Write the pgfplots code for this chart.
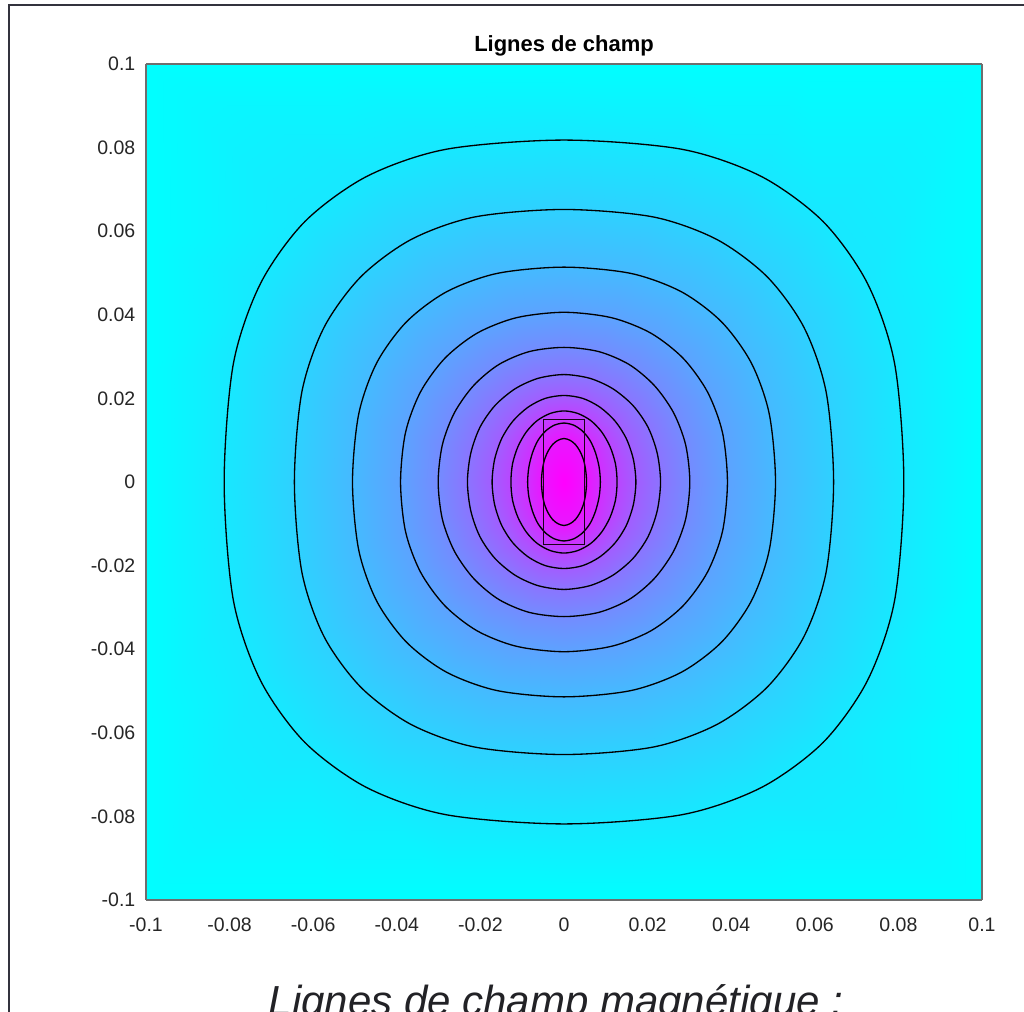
\documentclass[border=0pt]{standalone}
\usepackage{fontspec}
\setmainfont{Liberation Sans}
\usepackage{pgfplots}
\pgfplotsset{compat=1.18}
\usepackage{pgfplotstable}
\definecolor{ticktxt}{HTML}{262626}
\definecolor{framecol}{HTML}{33333D}
\definecolor{boxcol}{HTML}{6E6E6E}
\definecolor{captxt}{HTML}{222226}

% mesh: rows = centre, 10 field lines (inner to outer), square boundary; c = colour level
\pgfplotstableread{
x y c
0 0 1
0 0 1
0 0 1
0 0 1
0 0 1
0 0 1
0 0 1
0 0 1
0 0 1
0 0 1
0 0 1
0 0 1
0 0 1
0 0 1
0 0 1
0 0 1
0 0 1
0 0 1
0 0 1
0 0 1
0 0 1
0 0 1
0 0 1
0 0 1
0 0 1
0.0054 0 0.909
0.0052 0.0027 0.909
0.0047 0.0052 0.909
0.0038 0.0074 0.909
0.0027 0.0090 0.909
0.0014 0.0100 0.909
0 0.0104 0.909
-0.0014 0.0100 0.909
-0.0027 0.0090 0.909
-0.0038 0.0074 0.909
-0.0047 0.0052 0.909
-0.0052 0.0027 0.909
-0.0054 0 0.909
-0.0052 -0.0027 0.909
-0.0047 -0.0052 0.909
-0.0038 -0.0074 0.909
-0.0027 -0.0090 0.909
-0.0014 -0.0100 0.909
0 -0.0104 0.909
0.0014 -0.0100 0.909
0.0027 -0.0090 0.909
0.0038 -0.0074 0.909
0.0047 -0.0052 0.909
0.0052 -0.0027 0.909
0.0054 0 0.909
0.0087 0 0.818
0.0084 0.0036 0.818
0.0075 0.0071 0.818
0.0062 0.0100 0.818
0.0044 0.0122 0.818
0.0023 0.0136 0.818
0 0.0141 0.818
-0.0023 0.0136 0.818
-0.0044 0.0122 0.818
-0.0062 0.0100 0.818
-0.0075 0.0071 0.818
-0.0084 0.0036 0.818
-0.0087 0 0.818
-0.0084 -0.0036 0.818
-0.0075 -0.0071 0.818
-0.0062 -0.0100 0.818
-0.0044 -0.0122 0.818
-0.0023 -0.0136 0.818
0 -0.0141 0.818
0.0023 -0.0136 0.818
0.0044 -0.0122 0.818
0.0062 -0.0100 0.818
0.0075 -0.0071 0.818
0.0084 -0.0036 0.818
0.0087 0 0.818
0.0127 0 0.727
0.0123 0.0044 0.727
0.0110 0.0085 0.727
0.0090 0.0120 0.727
0.0064 0.0147 0.727
0.0033 0.0164 0.727
0 0.0170 0.727
-0.0033 0.0164 0.727
-0.0064 0.0147 0.727
-0.0090 0.0120 0.727
-0.0110 0.0085 0.727
-0.0123 0.0044 0.727
-0.0127 0 0.727
-0.0123 -0.0044 0.727
-0.0110 -0.0085 0.727
-0.0090 -0.0120 0.727
-0.0064 -0.0147 0.727
-0.0033 -0.0164 0.727
0 -0.0170 0.727
0.0033 -0.0164 0.727
0.0064 -0.0147 0.727
0.0090 -0.0120 0.727
0.0110 -0.0085 0.727
0.0123 -0.0044 0.727
0.0127 0 0.727
0.0172 0 0.636
0.0166 0.0054 0.636
0.0149 0.0104 0.636
0.0122 0.0146 0.636
0.0086 0.0179 0.636
0.0045 0.0200 0.636
0 0.0207 0.636
-0.0045 0.0200 0.636
-0.0086 0.0179 0.636
-0.0122 0.0146 0.636
-0.0149 0.0104 0.636
-0.0166 0.0054 0.636
-0.0172 0 0.636
-0.0166 -0.0054 0.636
-0.0149 -0.0104 0.636
-0.0122 -0.0146 0.636
-0.0086 -0.0179 0.636
-0.0045 -0.0200 0.636
0 -0.0207 0.636
0.0045 -0.0200 0.636
0.0086 -0.0179 0.636
0.0122 -0.0146 0.636
0.0149 -0.0104 0.636
0.0166 -0.0054 0.636
0.0172 0 0.636
0.0231 0 0.545
0.0223 0.0069 0.545
0.0201 0.0131 0.545
0.0165 0.0183 0.545
0.0117 0.0223 0.545
0.0062 0.0248 0.545
0 0.0257 0.545
-0.0062 0.0248 0.545
-0.0117 0.0223 0.545
-0.0165 0.0183 0.545
-0.0201 0.0131 0.545
-0.0223 0.0069 0.545
-0.0231 0 0.545
-0.0223 -0.0069 0.545
-0.0201 -0.0131 0.545
-0.0165 -0.0183 0.545
-0.0117 -0.0223 0.545
-0.0062 -0.0248 0.545
0 -0.0257 0.545
0.0062 -0.0248 0.545
0.0117 -0.0223 0.545
0.0165 -0.0183 0.545
0.0201 -0.0131 0.545
0.0223 -0.0069 0.545
0.0231 0 0.545
0.0301 0 0.455
0.0291 0.0089 0.455
0.0262 0.0166 0.455
0.0216 0.0231 0.455
0.0156 0.0281 0.455
0.0083 0.0312 0.455
0 0.0322 0.455
-0.0083 0.0312 0.455
-0.0156 0.0281 0.455
-0.0216 0.0231 0.455
-0.0262 0.0166 0.455
-0.0291 0.0089 0.455
-0.0301 0 0.455
-0.0291 -0.0089 0.455
-0.0262 -0.0166 0.455
-0.0216 -0.0231 0.455
-0.0156 -0.0281 0.455
-0.0083 -0.0312 0.455
0 -0.0322 0.455
0.0083 -0.0312 0.455
0.0156 -0.0281 0.455
0.0216 -0.0231 0.455
0.0262 -0.0166 0.455
0.0291 -0.0089 0.455
0.0301 0 0.455
0.0391 0 0.364
0.0379 0.0119 0.364
0.0343 0.0216 0.364
0.0285 0.0296 0.364
0.0208 0.0356 0.364
0.0114 0.0393 0.364
0 0.0406 0.364
-0.0114 0.0393 0.364
-0.0208 0.0356 0.364
-0.0285 0.0296 0.364
-0.0343 0.0216 0.364
-0.0379 0.0119 0.364
-0.0391 0 0.364
-0.0379 -0.0119 0.364
-0.0343 -0.0216 0.364
-0.0285 -0.0296 0.364
-0.0208 -0.0356 0.364
-0.0114 -0.0393 0.364
0 -0.0406 0.364
0.0114 -0.0393 0.364
0.0208 -0.0356 0.364
0.0285 -0.0296 0.364
0.0343 -0.0216 0.364
0.0379 -0.0119 0.364
0.0391 0 0.364
0.0506 0 0.273
0.0491 0.0163 0.273
0.0448 0.0285 0.273
0.0377 0.0383 0.273
0.0281 0.0455 0.273
0.0160 0.0499 0.273
0 0.0514 0.273
-0.0160 0.0499 0.273
-0.0281 0.0455 0.273
-0.0377 0.0383 0.273
-0.0448 0.0285 0.273
-0.0491 0.0163 0.273
-0.0506 0 0.273
-0.0491 -0.0163 0.273
-0.0448 -0.0285 0.273
-0.0377 -0.0383 0.273
-0.0281 -0.0455 0.273
-0.0160 -0.0499 0.273
0 -0.0514 0.273
0.0160 -0.0499 0.273
0.0281 -0.0455 0.273
0.0377 -0.0383 0.273
0.0448 -0.0285 0.273
0.0491 -0.0163 0.273
0.0506 0 0.273
0.0645 0 0.182
0.0627 0.0216 0.182
0.0574 0.0370 0.182
0.0486 0.0491 0.182
0.0366 0.0580 0.182
0.0214 0.0634 0.182
0 0.0652 0.182
-0.0214 0.0634 0.182
-0.0366 0.0580 0.182
-0.0486 0.0491 0.182
-0.0574 0.0370 0.182
-0.0627 0.0216 0.182
-0.0645 0 0.182
-0.0627 -0.0216 0.182
-0.0574 -0.0370 0.182
-0.0486 -0.0491 0.182
-0.0366 -0.0580 0.182
-0.0214 -0.0634 0.182
0 -0.0652 0.182
0.0214 -0.0634 0.182
0.0366 -0.0580 0.182
0.0486 -0.0491 0.182
0.0574 -0.0370 0.182
0.0627 -0.0216 0.182
0.0645 0 0.182
0.0813 0 0.091
0.0791 0.0283 0.091
0.0726 0.0475 0.091
0.0620 0.0623 0.091
0.0472 0.0731 0.091
0.0282 0.0796 0.091
0 0.0818 0.091
-0.0282 0.0796 0.091
-0.0472 0.0731 0.091
-0.0620 0.0623 0.091
-0.0726 0.0475 0.091
-0.0791 0.0283 0.091
-0.0813 0 0.091
-0.0791 -0.0283 0.091
-0.0726 -0.0475 0.091
-0.0620 -0.0623 0.091
-0.0472 -0.0731 0.091
-0.0282 -0.0796 0.091
0 -0.0818 0.091
0.0282 -0.0796 0.091
0.0472 -0.0731 0.091
0.0620 -0.0623 0.091
0.0726 -0.0475 0.091
0.0791 -0.0283 0.091
0.0813 0 0.091
0.1 0 0
0.1 0.0268 0
0.1 0.0577 0
0.1 0.1 0
0.0577 0.1 0
0.0268 0.1 0
0 0.1 0
-0.0268 0.1 0
-0.0577 0.1 0
-0.1 0.1 0
-0.1 0.0577 0
-0.1 0.0268 0
-0.1 0 0
-0.1 -0.0268 0
-0.1 -0.0577 0
-0.1 -0.1 0
-0.0577 -0.1 0
-0.0268 -0.1 0
0 -0.1 0
0.0268 -0.1 0
0.0577 -0.1 0
0.1 -0.1 0
0.1 -0.0577 0
0.1 -0.0268 0
0.1 0 0
}\meshtable

\begin{document}
\begin{tikzpicture}
\useasboundingbox (0,0) rectangle (20.48,20.22);
\clip (0,0) rectangle (20.48,20.22);
\fill[white] (0,0) rectangle (20.48,20.22);
\draw[framecol, line width=1.1pt] (0.18,-0.5) -- (0.18,20.12) -- (21,20.12);
\begin{axis}[
  at={(2.92cm,2.22cm)}, anchor=south west,
  scale only axis, width=16.72cm, height=16.72cm,
  view={0}{90},
  xmin=-0.1, xmax=0.1, ymin=-0.1, ymax=0.1,
  enlargelimits=false,
  axis on top,
  xtick={-0.1,-0.08,-0.06,-0.04,-0.02,0,0.02,0.04,0.06,0.08,0.1},
  xticklabels={-0.1,-0.08,-0.06,-0.04,-0.02,0,0.02,0.04,0.06,0.08,0.1},
  ytick={-0.1,-0.08,-0.06,-0.04,-0.02,0,0.02,0.04,0.06,0.08,0.1},
  yticklabels={-0.1,-0.08,-0.06,-0.04,-0.02,0,0.02,0.04,0.06,0.08,0.1},
  ztick=\empty,
  tick style={draw=none},
  tick label style={font=\fontsize{11.1}{13}\selectfont, text=ticktxt},
  xticklabel style={yshift=-0.24cm},
  yticklabel style={xshift=-0.09cm},
  axis line style={boxcol, line width=0.8pt},
  colormap={coolm}{rgb255=(0,255,255) rgb255=(255,0,255)},
  point meta min=0, point meta max=1,
  contour/.style={black, line width=0.75pt, smooth cycle, no markers},
]
\addplot3[surf, shader=interp, mesh/rows=12, mesh/cols=25] table[x=x,y=y,z=c] {\meshtable};
\addplot3[contour, skip coords between index={0}{25}, skip coords between index={49}{300}] table[x=x,y=y,z=c] {\meshtable};
\addplot3[contour, skip coords between index={0}{50}, skip coords between index={74}{300}] table[x=x,y=y,z=c] {\meshtable};
\addplot3[contour, skip coords between index={0}{75}, skip coords between index={99}{300}] table[x=x,y=y,z=c] {\meshtable};
\addplot3[contour, skip coords between index={0}{100}, skip coords between index={124}{300}] table[x=x,y=y,z=c] {\meshtable};
\addplot3[contour, skip coords between index={0}{125}, skip coords between index={149}{300}] table[x=x,y=y,z=c] {\meshtable};
\addplot3[contour, skip coords between index={0}{150}, skip coords between index={174}{300}] table[x=x,y=y,z=c] {\meshtable};
\addplot3[contour, skip coords between index={0}{175}, skip coords between index={199}{300}] table[x=x,y=y,z=c] {\meshtable};
\addplot3[contour, skip coords between index={0}{200}, skip coords between index={224}{300}] table[x=x,y=y,z=c] {\meshtable};
\addplot3[contour, skip coords between index={0}{225}, skip coords between index={249}{300}] table[x=x,y=y,z=c] {\meshtable};
\addplot3[contour, skip coords between index={0}{250}, skip coords between index={274}{300}] table[x=x,y=y,z=c] {\meshtable};
\addplot3[black!80!violet, line width=0.6pt, sharp plot, no markers] coordinates {(-0.005,-0.015,1) (0.005,-0.015,1) (0.005,0.015,1) (-0.005,0.015,1) (-0.005,-0.015,1)};
\end{axis}
\node[anchor=base, font=\bfseries\fontsize{12.5}{15}\selectfont, text=black] at (11.28,19.18) {Lignes de champ};
\node[anchor=base, font=\itshape\fontsize{23.9}{28}\selectfont, text=captxt] at (11.12,-0.08) {Lignes de champ magnétique :};
\end{tikzpicture}
\end{document}
